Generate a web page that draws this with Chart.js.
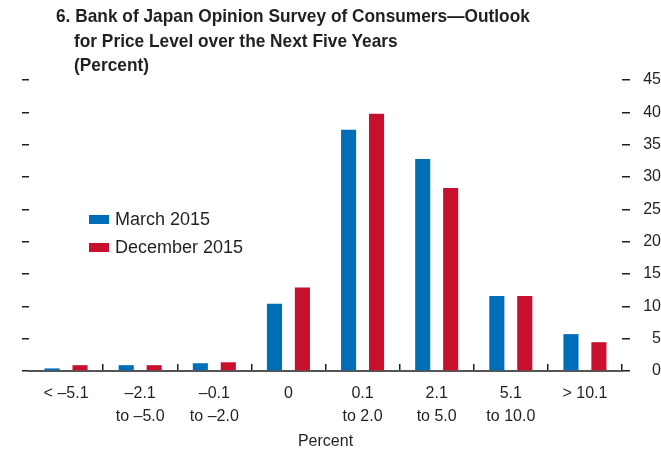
<!DOCTYPE html>
<html>
<head>
<meta charset="utf-8">
<script src="https://cdn.jsdelivr.net/npm/chart.js@4"></script>
<style>
  body { margin: 0; background: #fff; }
  #wrap { position: relative; width: 661px; height: 452px; overflow: hidden; }
  #title { position: absolute; left: 0; top: 0; font-family: "Liberation Sans", Arial, sans-serif;
           font-weight: bold; font-size: 18.5px; color: #231f20; }
  #title div { position: absolute; white-space: nowrap; transform: scaleX(0.935); transform-origin: 0 0; }
  #legend { position: absolute; left: 89px; top: 209px; font-family: "Liberation Sans", Arial, sans-serif;
            font-size: 18px; color: #231f20; }
  .item { position: relative; height: 28px; white-space: nowrap; }
  .sw { position: absolute; left: 0; top: 6px; width: 20px; height: 9px; }
  .lb { position: absolute; left: 26px; top: 0; }
</style>
</head>
<body>
<div id="wrap">
  <canvas id="myChart"></canvas>
  <div id="title">
    <div style="left:56px; top:5px;">6. Bank of Japan Opinion Survey of Consumers—Outlook</div>
    <div style="left:74px; top:30px;">for Price Level over the Next Five Years</div>
    <div style="left:74px; top:54px;">(Percent)</div>
  </div>
  <div id="legend"></div>
</div>
<script>
// Категорії та значення (відсотки респондентів)
const categories = [
  ["< –5.1"],
  ["–2.1", "to –5.0"],
  ["–0.1", "to –2.0"],
  ["0"],
  ["0.1", "to 2.0"],
  ["2.1", "to 5.0"],
  ["5.1", "to 10.0"],
  ["> 10.1"],
];
const march2015 = [0.4, 0.9, 1.2, 10.4, 37.3, 32.8, 11.6, 5.7];
const december2015 = [0.9, 0.9, 1.35, 12.9, 39.8, 28.3, 11.6, 4.45];
const seriesLabels = ["March 2015", "December 2015"];
const seriesColors = ["#006eb6", "#c8102e"];
const yTicks = [0, 5, 10, 15, 20, 25, 30, 35, 40, 45];

const ink = "#231f20";
const tickFont = { family: "'Liberation Sans', Arial, sans-serif", size: 16, lineHeight: 1.45 };

function main() {
  const ctx = document.getElementById("myChart").getContext("2d");
  const chart = new Chart(ctx, {
    type: "bar",
    data: {
      labels: categories,
      datasets: [
        { label: seriesLabels[0], data: march2015, backgroundColor: seriesColors[0], yAxisID: "y" },
        { label: seriesLabels[1], data: december2015, backgroundColor: seriesColors[1], yAxisID: "y" },
      ],
    },
    options: {
      responsive: true,
      maintainAspectRatio: false,
      animation: false,
      categoryPercentage: 0.754,
      barPercentage: 0.54,
      layout: { padding: { top: 80, left: 0, right: 0, bottom: 0 } },
      plugins: { legend: { display: false }, tooltip: { enabled: false } },
      scales: {
        x: {
          grid: {
            offset: true,
            drawOnChartArea: false,
            drawTicks: true,
            tickLength: -7,
            lineWidth: 1.5,
            color: (c) => (c.index === 0 || c.index === categories.length ? "rgba(0,0,0,0)" : ink),
          },
          border: { display: true, color: "#555", width: 2 },
          ticks: { color: ink, font: tickFont, padding: 18, maxRotation: 0, autoSkip: false },
          title: {
            display: true,
            text: "Percent",
            color: ink,
            font: { family: "'Liberation Sans', Arial, sans-serif", size: 16 },
            padding: { top: 0, bottom: 1 },
          },
          afterFit: (s) => { s.height = 81; },
        },
        y: {
          position: "left",
          min: 0,
          max: 45,
          grid: { drawOnChartArea: false, drawTicks: true, tickLength: 7, lineWidth: 1.5, color: ink },
          border: { display: false },
          ticks: { display: false, stepSize: 5 },
          afterFit: (s) => { s.width = 29; },
        },
        y2: {
          position: "right",
          min: 0,
          max: 45,
          afterBuildTicks: (s) => { s.ticks = yTicks.map((v) => ({ value: v })); },
          grid: { drawOnChartArea: false, drawTicks: true, tickLength: 8, lineWidth: 1.5, color: ink },
          border: { display: false },
          ticks: { color: ink, font: tickFont, crossAlign: "far", padding: 4 },
          afterFit: (s) => { s.width = 39; },
        },
      },
    },
  });

  // Легенда як HTML-текст
  const legend = document.getElementById("legend");
  chart.data.datasets.forEach((ds) => {
    legend.innerHTML += `<div class="item"><span class="sw" style="background:${ds.backgroundColor}"></span><span class="lb">${ds.label}</span></div>`;
  });
}

document.addEventListener("DOMContentLoaded", main);
</script>
</body>
</html>
